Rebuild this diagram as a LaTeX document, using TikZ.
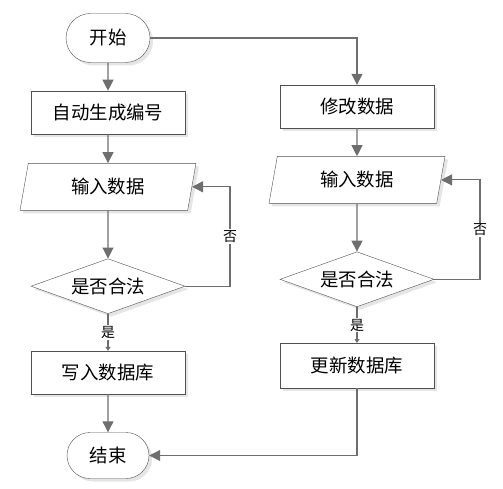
\documentclass[tikz,border=0pt]{standalone}
\usepackage{fontspec}
\setmainfont{Noto Sans CJK SC}
\usepackage{xcolor}
\usepackage{tikz}
\usetikzlibrary{shapes.geometric, shapes.misc, arrows.meta, positioning, shadows}

\definecolor{edge}{HTML}{505050}
\definecolor{wire}{HTML}{6E6E6E}

\begin{document}
\begin{tikzpicture}[x=1bp, y=-1bp, node distance=28bp and 28bp,
    >={Triangle[length=11bp, width=11bp]},
    shade/.style={drop shadow={shadow xshift=3bp, shadow yshift=-3bp, fill=black!10, opacity=1}},
    term/.style={rounded rectangle, draw=edge, fill=white, shade, minimum width=84bp, minimum height=49bp, inner sep=0pt, font=\fontsize{18.5}{21}\selectfont},
    process/.style={rectangle, draw=edge, fill=white, shade, minimum width=154bp, minimum height=43bp, inner sep=0pt, font=\fontsize{18.5}{21}\selectfont},
    io/.style={trapezium, trapezium left angle=64, trapezium right angle=116, trapezium stretches body, draw=edge, fill=white, shade, minimum width=176bp, minimum height=47bp, inner sep=0pt, font=\fontsize{18.5}{21}\selectfont},
    decision/.style={diamond, aspect=2.85, draw=edge, fill=white, shade, minimum width=154bp, minimum height=55bp, inner sep=0pt, font=\fontsize{18.5}{21}\selectfont},
    flow/.style={->, wire, line width=1.1bp},
    tag/.style={fill=white, text=black, inner sep=1bp, font=\fontsize{14}{16}\selectfont}
]
\useasboundingbox (0,0) rectangle (503,489);

% Left column: new record
\node (start) [term] at (108,38) {开始};
\node (genid) [process, below=28bp of start] {自动生成编号};
\node (inputL) [io, below=29bp of genid] {输入数据};
\node (checkL) [decision, below=48bp of inputL] {是否合法};
\node (save) [process, below=37bp of checkL] {写入数据库};
\node (stop) [term, below=38bp of save, minimum width=82bp, minimum height=46bp] {结束};

% Right column: edit record
\node (edit) [process] at (357,106.5) {修改数据};
\node (inputR) [io, below=28bp of edit] {输入数据};
\node (checkR) [decision, below=48bp of inputR] {是否合法};
\node (update) [process, below=36bp of checkR, minimum height=45bp] {更新数据库};

% Corners of the loops
\coordinate (loopL) at (230,0);
\coordinate (loopR) at (480,0);

% Flow Connections
\draw [flow] (start) -- (genid);
\draw [flow] (genid) -- (inputL);
\draw [flow] (inputL) -- (checkL);
\draw [flow] (checkL.east) -| (loopL |- inputL.east) node [tag, pos=0.75] {否} -- (inputL.east);
\draw [wire, line width=1.1bp, -{Triangle[length=4bp, width=5bp]}] (checkL) -- node [tag] {是} (save);
\draw [flow] (save) -- (stop);

\draw [flow] (start.east) -| (edit.north);
\draw [flow] (edit) -- (inputR);
\draw [flow] (inputR) -- (checkR);
\draw [flow] (checkR.east) -| (loopR |- inputR.east) node [tag, pos=0.75] {否} -- (inputR.east);
\draw [wire, line width=1.1bp, -{Triangle[length=4bp, width=5bp]}] (checkR) -- node [tag] {是} (update);
\draw [flow] (update.south) |- (stop.east);

\end{tikzpicture}
\end{document}
